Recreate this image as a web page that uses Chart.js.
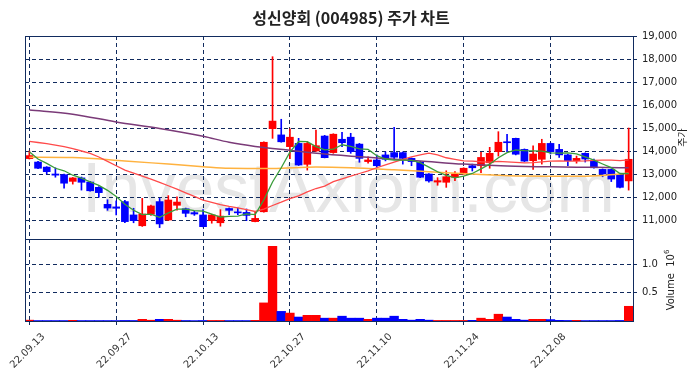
<!DOCTYPE html>
<html>
<head>
<meta charset="utf-8">
<script src="https://cdn.jsdelivr.net/npm/chart.js@4.4.1/dist/chart.umd.min.js"></script>
<style>
  html, body { margin: 0; padding: 0; background: #fff; }
  #wrap { width: 698px; height: 378px; }
</style>
</head>
<body>
<div id="wrap"><canvas id="chart" width="698" height="378"></canvas></div>
<script>
// trading days shown on the chart
const dates = [
  '22.09.13', '22.09.14', '22.09.15', '22.09.16', '22.09.19', '22.09.20', '22.09.21', '22.09.22', '22.09.23', '22.09.26',
  '22.09.27', '22.09.28', '22.09.29', '22.09.30', '22.10.04', '22.10.05', '22.10.06', '22.10.07', '22.10.11', '22.10.12',
  '22.10.13', '22.10.14', '22.10.17', '22.10.18', '22.10.19', '22.10.20', '22.10.21', '22.10.24', '22.10.25', '22.10.26',
  '22.10.27', '22.10.28', '22.10.31', '22.11.01', '22.11.02', '22.11.03', '22.11.04', '22.11.07', '22.11.08', '22.11.09',
  '22.11.10', '22.11.11', '22.11.14', '22.11.15', '22.11.16', '22.11.17', '22.11.18', '22.11.21', '22.11.22', '22.11.23',
  '22.11.24', '22.11.25', '22.11.28', '22.11.29', '22.11.30', '22.12.01', '22.12.02', '22.12.05', '22.12.06', '22.12.07',
  '22.12.08', '22.12.09', '22.12.12', '22.12.13', '22.12.14', '22.12.15', '22.12.16', '22.12.19', '22.12.20', '22.12.21'
];

const opens = [
  13670, 13520, 13300, 13000, 12970, 12680, 12830, 12650, 12420, 11680,
  11570, 11800, 11220, 10750, 11250, 11800, 11000, 11640, 11490, 11320,
  11220, 10970, 10880, 11500, 11340, 11330, 10930, 11360, 14970, 14700,
  14190, 14330, 13420, 14000, 14650, 13930, 14510, 14600, 14300, 13540,
  13610, 13830, 13930, 13930, 13680, 13510, 13000, 12650, 12640, 12860,
  13000, 13360, 13360, 13490, 13970, 14390, 14550, 14070, 13580, 13640,
  14330, 14070, 13830, 13580, 13900, 13580, 13200, 13200, 12960, 12700
];
const highs = [
  14000, 13550, 13320, 13270, 13000, 12850, 12870, 12680, 12450, 11880,
  11830, 11850, 11510, 11940, 11650, 11940, 12060, 12010, 11520, 11380,
  11450, 11250, 11450, 11530, 11520, 11480, 11360, 14400, 18100, 15380,
  14960, 14550, 14400, 14910, 14680, 14750, 14810, 14770, 14330, 13750,
  13830, 13960, 15030, 13960, 13700, 13550, 13020, 12840, 13140, 13100,
  13270, 13430, 13940, 14160, 14840, 14730, 14560, 14090, 14230, 14510,
  14350, 14290, 13850, 13780, 13920, 13650, 13220, 13220, 12980, 15000
];
const lows = [
  13650, 13230, 13000, 12860, 12380, 12560, 12300, 12250, 11990, 11420,
  11220, 10880, 10880, 10720, 11200, 10670, 10980, 11430, 11140, 11200,
  10700, 10860, 10730, 11230, 11230, 10970, 10920, 11340, 14550, 14380,
  13670, 13370, 13170, 13980, 13700, 13900, 14190, 13900, 13510, 13470,
  13290, 13570, 13640, 13430, 13360, 12840, 12640, 12510, 12420, 12710,
  12990, 13130, 13060, 13250, 13780, 13970, 13830, 13540, 13200, 13430,
  13870, 13720, 13360, 13470, 13520, 13250, 12880, 12670, 12400, 12300
];
const closes = [
  13800, 13250, 13100, 12950, 12600, 12830, 12640, 12270, 12190, 11520,
  11510, 10930, 10970, 11260, 11610, 10830, 11870, 11780, 11290, 11260,
  10710, 11220, 11170, 11420, 11310, 11200, 11070, 14380, 15300, 14400,
  14600, 13390, 14330, 14230, 13710, 14730, 14360, 13970, 13680, 13610,
  13360, 13640, 13730, 13680, 13540, 12860, 12700, 12710, 12880, 13000,
  13250, 13270, 13720, 13900, 14380, 14360, 13860, 13560, 13870, 14330,
  13970, 13830, 13580, 13680, 13650, 13270, 13000, 12780, 12420, 13640
];
const volumes = [
  15000, 8000, 8000, 8000, 8000, 12000, 8000, 8000, 8000, 8000,
  8000, 10000, 9000, 30000, 14000, 30000, 30000, 14000, 9000, 7000,
  9000, 10000, 10000, 8000, 8000, 8000, 12000, 320000, 1320000, 170000,
  140000, 70000, 100000, 100000, 50000, 50000, 85000, 50000, 50000, 30000,
  50000, 50000, 85000, 30000, 15000, 30000, 15000, 10000, 10000, 10000,
  10000, 12000, 50000, 30000, 120000, 70000, 30000, 15000, 30000, 30000,
  25000, 12000, 10000, 12000, 8000, 8000, 8000, 8000, 10000, 260000
];

// moving averages
const ma5 = [
  13970, 13650, 13460, 13250, 13140, 12946, 12824, 12658, 12506, 12290,
  12026, 11684, 11424, 11238, 11256, 11120, 11308, 11470, 11476, 11406,
  11382, 11252, 11130, 11156, 11166, 11264, 11234, 11876, 12652, 13270,
  13950, 14414, 14404, 14190, 14052, 14078, 14272, 14200, 14090, 14070,
  13796, 13652, 13604, 13604, 13590, 13490, 13302, 13098, 12938, 12830,
  12908, 13022, 13224, 13428, 13704, 13926, 14044, 14012, 14006, 13996,
  13918, 13912, 13916, 13878, 13742, 13602, 13436, 13276, 13022, 13020
];
const ma20 = [
  14420, 14370, 14320, 14260, 14190, 14100, 14000, 13900, 13740, 13550,
  13360, 13170, 13040, 12910, 12780, 12640, 12490, 12340, 12180, 12023,
  11869, 11767, 11671, 11594, 11530, 11448, 11370, 11475, 11631, 11775,
  11929, 12052, 12220, 12369, 12474, 12669, 12793, 12903, 13022, 13140,
  13272, 13393, 13521, 13634, 13746, 13829, 13910, 13827, 13706, 13636,
  13568, 13562, 13532, 13515, 13549, 13530, 13505, 13485, 13494, 13530,
  13561, 13570, 13563, 13563, 13568, 13589, 13604, 13607, 13584, 13616
];
const ma60Days = ['22.09.13', '22.09.20', '22.09.28', '22.10.06', '22.10.13', '22.10.18', '22.10.25', '22.11.01',
  '22.11.07', '22.11.14', '22.11.18', '22.11.28', '22.12.05', '22.12.12', '22.12.16', '22.12.21'];
const ma60 = [13730, 13720, 13570, 13430, 13320, 13250, 13240, 13300,
  13270, 13180, 13100, 12980, 12910, 12900, 12940, 13030];
const ma120Days = ['22.09.13', '22.09.20', '22.09.27', '22.10.05', '22.10.13', '22.10.18', '22.10.21', '22.10.27',
  '22.11.02', '22.11.10', '22.11.17', '22.11.24', '22.12.01', '22.12.08', '22.12.15', '22.12.21'];
const ma120 = [15780, 15600, 15260, 14980, 14640, 14380, 14200, 14030,
  13870, 13700, 13570, 13430, 13350, 13310, 13290, 13270];

const priceTicks = [11000, 12000, 13000, 14000, 15000, 16000, 17000, 18000, 19000];
const volumeTicks = [500000, 1000000];

const RED = '#ff0000';
const BLUE = '#0000ff';
const NAVY = '#112b5e';
const DASH = [4, 3];

const candleColors = closes.map((c, i) => c >= opens[i] ? RED : BLUE);

// frame, watermark, title and rotated axis titles
const decor = {
  id: 'decor',
  beforeDraw(chart) {
    const { ctx } = chart;
    const a = chart.chartArea;
    const y = chart.scales.y;
    ctx.save();
    ctx.fillStyle = '#fff';
    ctx.fillRect(0, 0, chart.width, chart.height);
    ctx.beginPath();
    ctx.rect(a.left, y.top, a.right - a.left, y.bottom - y.top);
    ctx.clip();
    ctx.font = '70px "Liberation Sans"';
    ctx.fillStyle = '#e6e6e6';
    ctx.textBaseline = 'alphabetic';
    ctx.textAlign = 'left';
    ctx.fillText('InvestAxiom.com', 82, 212);
    ctx.restore();
  },
  afterDraw(chart) {
    const { ctx } = chart;
    const a = chart.chartArea;
    const y = chart.scales.y;
    const yv = chart.scales.yv;
    ctx.save();
    ctx.strokeStyle = NAVY;
    ctx.lineWidth = 1;
    ctx.strokeRect(Math.round(a.left) + 0.5, Math.round(y.top) + 0.5, Math.round(a.right - a.left), Math.round(y.bottom - y.top));
    ctx.strokeRect(Math.round(a.left) + 0.5, Math.round(yv.top) + 0.5, Math.round(a.right - a.left), Math.round(yv.bottom - yv.top));

    ctx.fillStyle = '#222';
    ctx.font = 'bold 16px "Noto Sans CJK KR"';
    ctx.textAlign = 'center';
    ctx.textBaseline = 'middle';
    ctx.fillText('성신양회 (004985) 주가 차트', 351, 18);

    ctx.font = '10px "Noto Sans CJK KR"';
    ctx.translate(682, (y.top + y.bottom) / 2);
    ctx.rotate(-Math.PI / 2);
    ctx.fillText('주가', 0, 0);
    ctx.restore();

    ctx.save();
    ctx.fillStyle = '#222';
    ctx.font = '10px "DejaVu Sans"';
    const w1 = ctx.measureText('Volume  ').width;
    const w2 = ctx.measureText('10').width;
    ctx.font = '7px "DejaVu Sans"';
    const w3 = ctx.measureText('6').width;
    const total = w1 + w2 + w3;
    ctx.translate(671, (yv.top + yv.bottom) / 2);
    ctx.rotate(-Math.PI / 2);
    ctx.textAlign = 'left';
    ctx.textBaseline = 'middle';
    ctx.font = '10px "DejaVu Sans"';
    ctx.fillText('Volume  ', -total / 2, 0);
    ctx.fillText('10', -total / 2 + w1, 0);
    ctx.font = '7px "DejaVu Sans"';
    ctx.fillText('6', -total / 2 + w1 + w2, -4);
    ctx.restore();
  }
};

const tickFont = { family: 'DejaVu Sans', size: 10 };

new Chart(document.getElementById('chart'), {
  type: 'bar',
  data: {
    labels: dates,
    datasets: [
      {
        type: 'line', label: 'MA5', data: ma5, yAxisID: 'y',
        borderColor: '#3a9c3a', borderWidth: 1.3, pointRadius: 0, order: 0
      },
      {
        type: 'line', label: 'MA20', data: ma20, yAxisID: 'y',
        borderColor: '#ff4a4a', borderWidth: 1.3, pointRadius: 0, order: 0
      },
      {
        type: 'line', label: 'MA60', yAxisID: 'y',
        data: ma60Days.map((d, k) => ({ x: d, y: ma60[k] })),
        borderColor: '#ffb23f', borderWidth: 1.5, pointRadius: 0, cubicInterpolationMode: 'monotone', order: 0
      },
      {
        type: 'line', label: 'MA120', yAxisID: 'y',
        data: ma120Days.map((d, k) => ({ x: d, y: ma120[k] })),
        borderColor: '#7a3a78', borderWidth: 1.5, pointRadius: 0, cubicInterpolationMode: 'monotone', order: 0
      },
      {
        label: 'wick', yAxisID: 'y', grouped: false,
        data: dates.map((d, i) => [lows[i], highs[i]]),
        backgroundColor: candleColors, barThickness: 1, order: 2
      },
      {
        label: 'body', yAxisID: 'y', grouped: false,
        data: dates.map((d, i) => [opens[i], closes[i]]),
        backgroundColor: candleColors, barThickness: 7, minBarLength: 1, order: 1
      },
      {
        label: 'volume', yAxisID: 'yv', grouped: false,
        data: volumes,
        backgroundColor: candleColors, barPercentage: 1, categoryPercentage: 1, order: 1
      }
    ]
  },
  options: {
    responsive: false,
    animation: false,
    devicePixelRatio: 1,
    layout: { padding: { top: 36, left: 25, right: 0, bottom: 0 } },
    plugins: { legend: { display: false }, tooltip: { enabled: false }, title: { display: false } },
    scales: {
      x: {
        type: 'category',
        offset: true,
        grid: {
          offset: false,
          color: c => c.index % 10 === 0 ? NAVY : 'rgba(0,0,0,0)',
          tickLength: 4
        },
        border: { display: true, color: NAVY, dash: DASH },
        ticks: {
          autoSkip: false,
          minRotation: 45,
          maxRotation: 45,
          font: tickFont,
          color: '#333',
          labelOffset: 14,
          padding: 6,
          callback: function (v, i) { return i % 10 === 0 ? dates[i] : ''; }
        },
        afterFit: s => { s.height = 57; s.paddingLeft = 0; s.paddingRight = 0; }
      },
      y: {
        position: 'right',
        stack: 'panes',
        stackWeight: 203,
        min: 10174,
        max: 19000,
        afterBuildTicks: s => { s.ticks = priceTicks.map(v => ({ value: v })); },
        grid: { color: NAVY, tickLength: 4 },
        border: { display: true, color: NAVY, dash: DASH },
        ticks: { font: tickFont, color: '#222', padding: 5 },
        afterFit: s => { s.width = 65; s.paddingTop = 0; s.paddingBottom = 0; }
      },
      yv: {
        position: 'right',
        stack: 'panes',
        stackWeight: 82,
        min: 0,
        max: 1450000,
        afterBuildTicks: s => { s.ticks = volumeTicks.map(v => ({ value: v })); },
        grid: { color: NAVY, tickLength: 4 },
        border: { display: true, color: NAVY, dash: DASH },
        ticks: { font: tickFont, color: '#222', padding: 5, callback: v => (v / 1e6).toFixed(1) },
        afterFit: s => { s.width = 65; s.paddingTop = 0; s.paddingBottom = 0; }
      }
    }
  },
  plugins: [decor]
});
</script>
</body>
</html>
